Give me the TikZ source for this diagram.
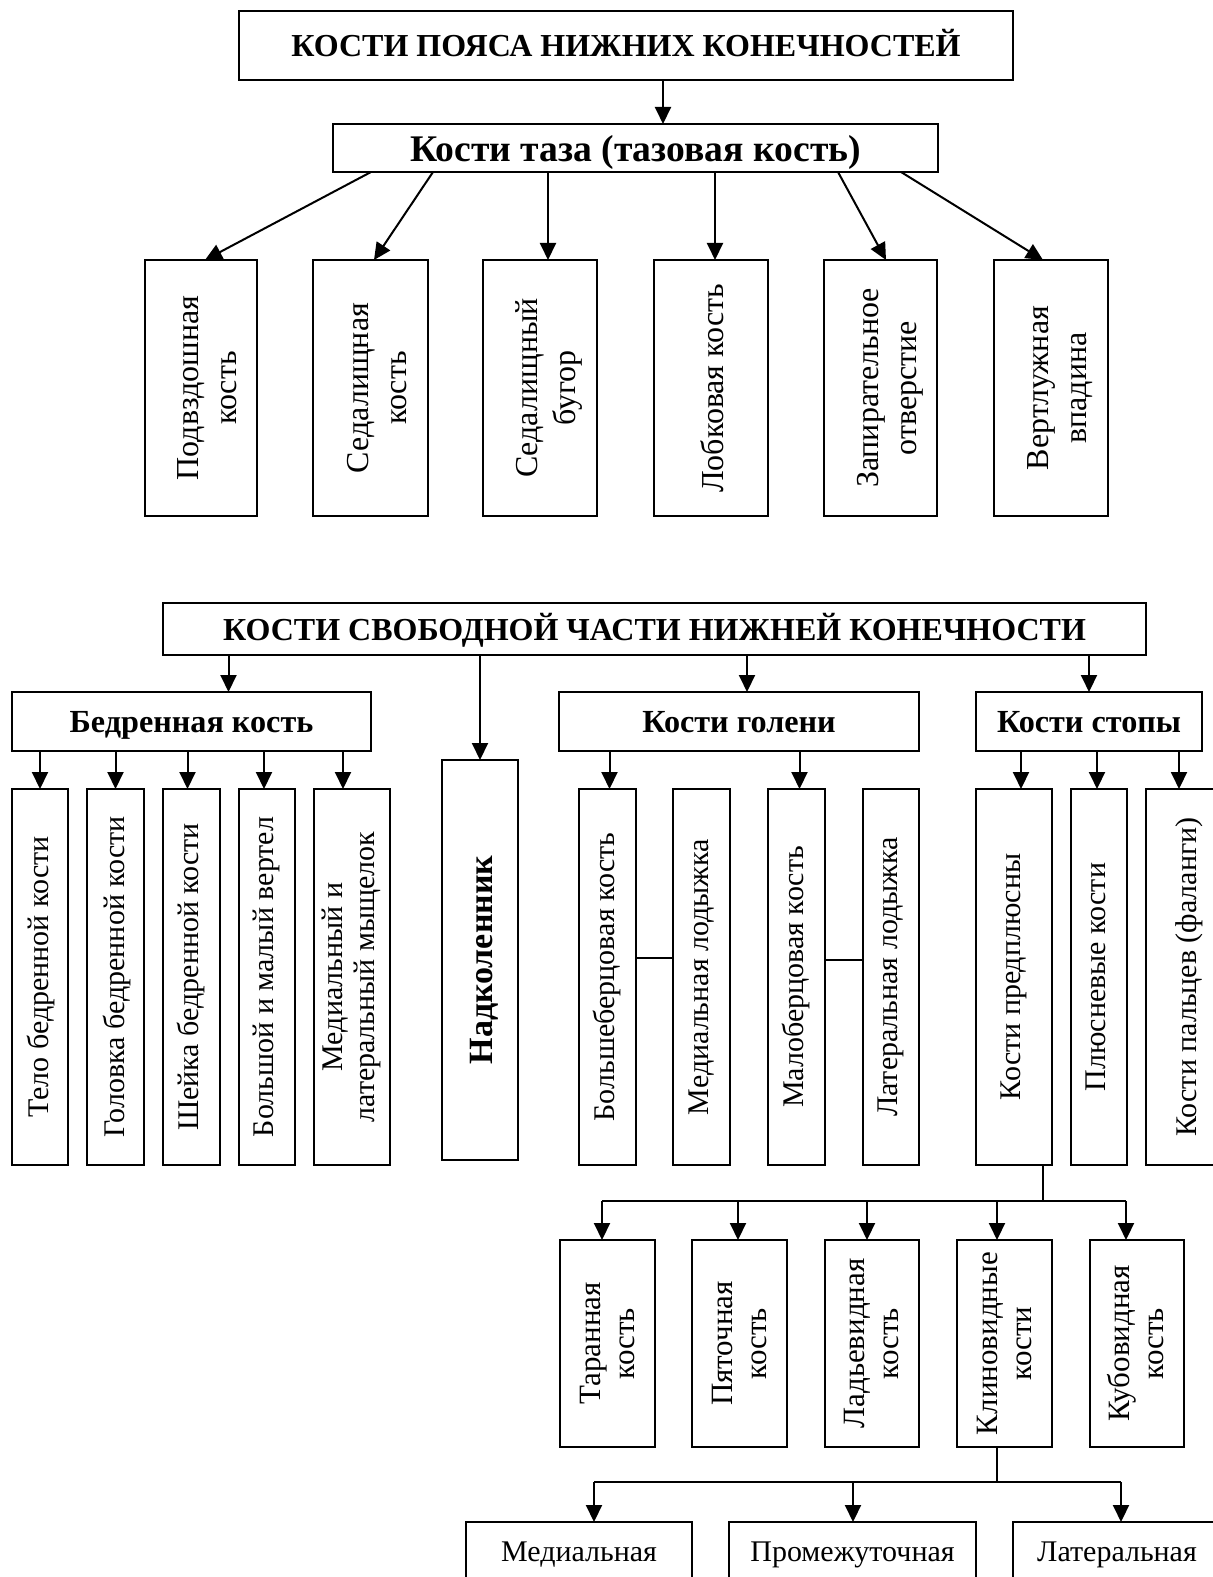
\documentclass[tikz,border=0pt]{standalone}
\usepackage{fontspec}
\setmainfont{Liberation Serif}
\usetikzlibrary{arrows.meta,calc}

\tikzset{
  box/.style={draw, line width=1pt, rectangle, inner sep=0pt, outer sep=0pt},
  arr/.style={line width=1pt, -{Triangle[width=8pt,length=8.5pt]}},
  ln/.style={line width=1pt},
  headA/.style={font=\fontsize{16}{19}\selectfont\bfseries, text height=11pt, text depth=0pt},
  headB/.style={font=\fontsize{18.8}{22}\selectfont\bfseries, text height=14pt, text depth=0pt},
  headC/.style={font=\fontsize{16.1}{19}\selectfont\bfseries, text height=10.5pt, text depth=0pt},
  vtxt/.style={font=\fontsize{16}{19}\selectfont},
  vtxtR/.style={font=\fontsize{15.5}{17}\selectfont},
  vtxtB/.style={font=\fontsize{15}{17}\selectfont},
  plain/.style={font=\fontsize{15}{18}\selectfont},
}

% box given by its pixel corners: style, name, x1, y1, x2, y2, text
\newcommand\bx[7]{\node[box,#1,minimum width={(#5-#3)*0.5pt},minimum height={(#6-#4)*0.5pt}] (#2) at ({(#3+#5)/2},{(#4+#6)/2}) {#7};}
% upright text turned to read from bottom to top; the optional length moves it to the right
\newcommand\vt[2][0pt]{\rotatebox{90}{\raisebox{-#1}[\height][\depth]{\begin{tabular}{@{}c@{}}#2\end{tabular}}}}

\begin{document}
\begin{tikzpicture}[x=0.5pt,y=-0.5pt]
\useasboundingbox (0,0) rectangle (1213,1577);
\fill[white] (0,0) rectangle (1213,1577);
\clip (0,0) rectangle (1213,1577);

% ---------- girdle of the lower limb ----------
\bx{headA}{t1}{239}{11}{1013}{80}{КОСТИ ПОЯСА НИЖНИХ КОНЕЧНОСТЕЙ}
\bx{headB}{tz}{333}{124}{938}{172}{Кости таза (тазовая кость)}

\bx{vtxt}{p1}{145}{260}{257}{516}{\vt[4.5pt]{Подвздошная\\кость}}
\bx{vtxt}{p2}{313}{260}{428}{516}{\vt[4.5pt]{Седалищная\\кость}}
\bx{vtxt}{p3}{483}{260}{597}{516}{\vt[4.5pt]{Седалищный\\бугор}}
\bx{vtxt}{p4}{654}{260}{768}{516}{\vt[2.5pt]{Лобковая кость}}
\bx{vtxt}{p5}{824}{260}{937}{516}{\vt[4.5pt]{Запирательное\\отверстие}}
\bx{vtxt}{p6}{994}{260}{1108}{516}{\vt[4.5pt]{Вертлужная\\впадина}}

\draw[arr] ($(t1.south west)+(424,0)$) -- ($(tz.north west)+(330,0)$);
\draw[arr] ($(tz.south west)+(38,0)$)  -- ($(p1.north west)+(60,0)$);
\draw[arr] ($(tz.south west)+(100,0)$) -- ($(p2.north west)+(61,0)$);
\draw[arr] ($(tz.south west)+(215,0)$) -- ($(p3.north west)+(65,0)$);
\draw[arr] ($(tz.south west)+(382,0)$) -- ($(p4.north west)+(61,0)$);
\draw[arr] ($(tz.south west)+(505,0)$) -- ($(p5.north west)+(62,0)$);
\draw[arr] ($(tz.south west)+(568,0)$) -- ($(p6.north west)+(49,0)$);

% ---------- free part of the lower limb ----------
\bx{headA}{fr}{163}{603}{1146}{655}{КОСТИ СВОБОДНОЙ ЧАСТИ НИЖНЕЙ КОНЕЧНОСТИ}
\bx{headC}{bed}{12}{692}{371}{751}{Бедренная кость}
\bx{headC}{gol}{559}{692}{919}{751}{Кости голени}
\bx{headC}{stp}{976}{692}{1202}{751}{Кости стопы}
\bx{font=\fontsize{17}{20}\selectfont\bfseries}{nad}{442}{760}{518}{1160}{\vt[2pt]{Надколенник}}

\draw[arr] ($(fr.south -| bed.north)+(37,0)$) -- ($(bed.north)+(37,0)$);
\draw[arr] (fr.south -| nad.north) -- (nad.north);
\draw[arr] ($(fr.south -| gol.north)+(8,0)$) -- ($(gol.north)+(8,0)$);
\draw[arr] (fr.south -| stp.north) -- (stp.north);

% femur
\bx{vtxtB}{f1}{12}{789}{68}{1165}{\vt[1pt]{Тело бедренной кости}}
\bx{vtxtB}{f2}{87}{789}{144}{1165}{\vt[1pt]{Головка бедренной кости}}
\bx{vtxtB}{f3}{163}{789}{220}{1165}{\vt{Шейка бедренной кости}}
\bx{vtxtB}{f4}{239}{789}{295}{1165}{\vt{Большой и малый вертел}}
\bx{font=\fontsize{15}{16}\selectfont}{f5}{314}{789}{390}{1165}{\vt{Медиальный и\\латеральный мыщелок}}

\draw[arr] (bed.south -| f1.north) -- (f1.north);
\draw[arr] (bed.south -| f2.north) -- (f2.north);
\draw[arr] ($(bed.south -| f3.north)+(-4,0)$) -- ($(f3.north)+(-4,0)$);
\draw[arr] ($(bed.south -| f4.north)+(-3,0)$) -- ($(f4.north)+(-3,0)$);
\draw[arr] ($(bed.south -| f5.north)+(-9,0)$) -- ($(f5.north)+(-9,0)$);

% shank
\bx{vtxtB}{g1}{579}{789}{636}{1165}{\vt{Большеберцовая кость}}
\bx{vtxtB}{g2}{673}{789}{730}{1165}{\vt{Медиальная лодыжка}}
\bx{vtxtB}{g3}{768}{789}{825}{1165}{\vt{Малоберцовая кость}}
\bx{vtxtB}{g4}{863}{789}{919}{1165}{\vt{Латеральная лодыжка}}

\draw[arr] ($(gol.south -| g1.north)+(2,0)$) -- ($(g1.north)+(2,0)$);
\draw[arr] ($(gol.south -| g3.north)+(3,0)$) -- ($(g3.north)+(3,0)$);
\draw[ln] ($(g1.east)+(0,-19)$) -- ($(g2.west)+(0,-19)$);
\draw[ln] ($(g3.east)+(0,-17)$) -- ($(g4.west)+(0,-17)$);

% foot
\bx{vtxtB}{s1}{976}{789}{1052}{1165}{\vt{Кости предплюсны}}
\bx{vtxtB}{s2}{1071}{789}{1127}{1165}{\vt{Плюсневые кости}}
\bx{vtxtB}{s3}{1146}{789}{1234}{1165}{\vt{Кости пальцев (фаланги)}}

\draw[arr] ($(stp.south -| s1.north)+(7,0)$) -- ($(s1.north)+(7,0)$);
\draw[arr] ($(stp.south -| s2.north)+(-2,0)$) -- ($(s2.north)+(-2,0)$);
\draw[arr] ($(stp.south -| s3.north)+(-11,0)$) -- ($(s3.north)+(-11,0)$);

% tarsal bones
\bx{vtxtR}{r1}{560}{1240}{655}{1447}{\vt[1.5pt]{Таранная\\кость}}
\bx{vtxtR}{r2}{692}{1240}{787}{1447}{\vt[1.5pt]{Пяточная\\кость}}
\bx{vtxtR}{r3}{825}{1240}{919}{1447}{\vt[1.5pt]{Ладьевидная\\кость}}
\bx{vtxtR}{r4}{957}{1240}{1052}{1447}{\vt[1.5pt]{Клиновидные\\кости}}
\bx{vtxtR}{r5}{1090}{1240}{1184}{1447}{\vt[1.5pt]{Кубовидная\\кость}}

\coordinate (ja) at (1043,1201);
\coordinate (jal) at (602,1201);
\coordinate (jar) at (1126,1201);
\draw[ln] (s1.south -| ja) -- (ja);
\draw[ln] (jal) -- (jar);
\draw[arr] (jal) -- (jal |- r1.north);
\draw[arr] (jal -| 738,0) -- (738,1240);
\draw[arr] (jal -| 867,0) -- (867,1240);
\draw[arr] (jal -| 997,0) -- (997,1240);
\draw[arr] (jar) -- (jar |- r5.north);

% cuneiform bones
\bx{plain}{c1}{466}{1522}{692}{1588}{Медиальная}
\bx{plain}{c2}{729}{1522}{976}{1588}{Промежуточная}
\bx{plain}{c3}{1013}{1522}{1221}{1588}{Латеральная}

\coordinate (jb) at (997,1482);
\coordinate (jbl) at (594,1482);
\coordinate (jbr) at (1121,1482);
\draw[ln] (r4.south -| jb) -- (jb);
\draw[ln] (jbl) -- (jbr);
\draw[arr] (jbl) -- (jbl |- c1.north);
\draw[arr] (jbl -| 853,0) -- (853,1522);
\draw[arr] (jbr) -- (jbr |- c3.north);
\end{tikzpicture}
\end{document}
